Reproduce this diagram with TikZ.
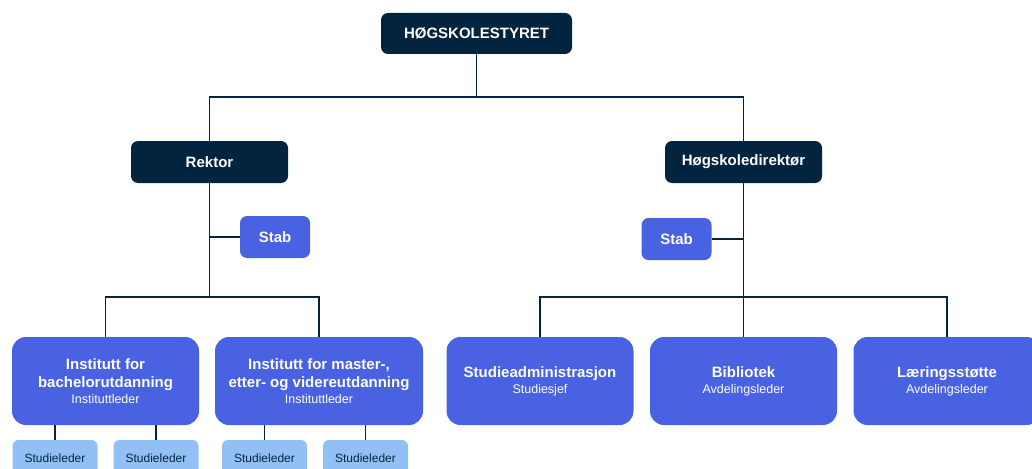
\documentclass[tikz,border=0pt]{standalone}
\usepackage{fontspec}
\setmainfont{Liberation Sans}
\usepackage{tikz}
\usetikzlibrary{positioning}
\definecolor{orgnavy}{RGB}{3,36,63}
\definecolor{orgblue}{RGB}{72,98,226}
\definecolor{orglight}{RGB}{147,192,244}
\tikzstyle{org_line} = [draw=orgnavy, line width=1.6pt]
\tikzstyle{org_top} = [rectangle, rounded corners=7pt, fill=orgnavy, text=white, font=\bfseries\fontsize{15}{18}\selectfont, align=center, inner sep=0pt, minimum width=191pt, minimum height=41pt]
\tikzstyle{org_lead} = [org_top, minimum width=157pt, minimum height=42pt]
\tikzstyle{org_stab} = [org_top, fill=orgblue, minimum width=70pt, minimum height=42pt]
\tikzstyle{org_unit} = [rectangle, rounded corners=14pt, fill=orgblue, text=white, font=\bfseries\fontsize{15}{18}\selectfont, align=center, inner sep=0pt, minimum width=187pt, minimum height=88pt]
\tikzstyle{org_sub} = [rectangle, rounded corners=6pt, fill=orglight, text=orgnavy, font=\fontsize{12}{14}\selectfont, align=center, inner sep=0pt, minimum width=85pt, minimum height=36pt]

\begin{document}
\begin{tikzpicture}[edge from parent/.style={org_line},
level 1/.style={level distance=128.5pt, sibling distance=534pt,
  edge from parent path={(\tikzparentnode.south) |- ([yshift=44pt]\tikzchildnode.north) -- (\tikzchildnode.north)}},
level 2/.style={level distance=219pt, sibling distance=203.5pt,
  edge from parent path={(\tikzparentnode.south) |- ([yshift=40pt]\tikzchildnode.north) -- (\tikzchildnode.north)}},
level 3/.style={level distance=77pt, sibling distance=101pt,
  edge from parent path={(\tikzchildnode.north) -- (\tikzchildnode.north |- \tikzparentnode.south)}}
]
\useasboundingbox (0,0) rectangle (1032pt,-468pt);
\clip (0,0) rectangle (1032pt,-468pt);
\node [org_top, name=styret] at (476.5pt,-33.5pt) {HØGSKOLESTYRET}
    child{ node [org_lead, name=rektor] {Rektor}
        child[sibling distance=213.5pt, xshift=2.75pt]{ node [org_unit, name=bachelor] {Institutt for\\bachelorutdanning\\[-2pt]{\mdseries\fontsize{12.5}{14}\selectfont Instituttleder}}
            child{ node [org_sub] {Studieleder}}
            child{ node [org_sub] {Studieleder}}
            }
        child[sibling distance=213.5pt, xshift=2.75pt]{ node [org_unit, minimum width=208pt, name=master] {Institutt for master-,\\etter- og videreutdanning\\[-2pt]{\mdseries\fontsize{12.5}{14}\selectfont Instituttleder}}
            child[xshift=-4pt]{ node [org_sub] {Studieleder}}
            child[xshift=-4pt]{ node [org_sub] {Studieleder}}
            }
        }
    child{ node [org_lead, name=direktor] {Høgskoledirektør}
        child{ node [org_unit, name=studadm] {Studieadministrasjon\\[-2pt]{\mdseries\fontsize{12.5}{14}\selectfont Studiesjef}}}
        child{ node [org_unit, name=bibliotek] {Bibliotek\\[-2pt]{\mdseries\fontsize{12.5}{14}\selectfont Avdelingsleder}}}
        child{ node [org_unit, name=laering] {Læringsstøtte\\[-2pt]{\mdseries\fontsize{12.5}{14}\selectfont Avdelingsleder}}}
        }
;
% stab units beside the leaders
\node [org_stab] (stabR) at ([xshift=65.5pt, yshift=-75pt]rektor) {Stab};
\node [org_stab] (stabD) at ([xshift=-67pt, yshift=-77pt]direktor) {Stab};
\draw [org_line] (stabR.west) -- (stabR.west -| rektor.south);
\draw [org_line] (stabD.east) -- (stabD.east -| direktor.south);
\end{tikzpicture}
\end{document}
